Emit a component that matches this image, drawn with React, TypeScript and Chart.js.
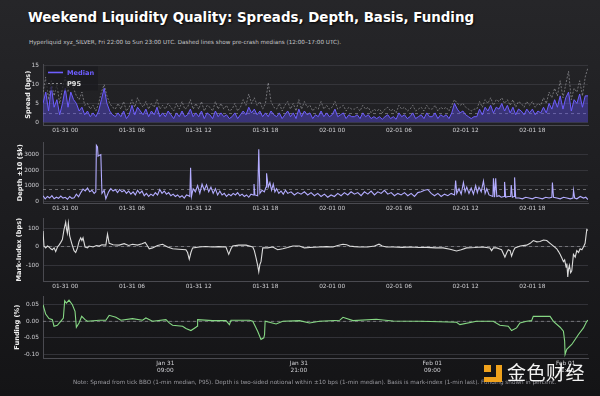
import React, { useEffect, useRef } from "react";
import { Chart, registerables } from "chart.js";

Chart.register(...registerables);

const FONT = "'DejaVu Sans', sans-serif";

// x axis: hours since Fri 01-30 22:00 UTC
const X_MIN = 0;
const X_MAX = 49;
const TOP_TICK_HOURS = [2, 8, 14, 20, 26, 32, 38, 44];
const TOP_TICK_LABELS = ["01-31 00", "01-31 06", "01-31 12", "01-31 18", "02-01 00", "02-01 06", "02-01 12", "02-01 18"];
const BOTTOM_TICK_HOURS = [11, 23, 35, 47];
const BOTTOM_TICK_LABELS = [["Jan 31", "09:00"], ["Jan 31", "21:00"], ["Feb 01", "09:00"], ["Feb 01", "21:00"]];

// Spread (bps), sampled every 15 minutes
const SPREAD_STEP_HOURS = 0.25;
const SPREAD_MEDIAN = [
  5, 8, 3, 9.5, 4, 6, 2, 5, 9, 4, 8, 6, 5, 3, 4, 2,
  3, 1.5, 2.5, 1.5, 3, 6, 9, 5, 3, 2, 1.5, 2.5, 1.5, 3, 1, 2,
  4.5, 2, 4, 3, 2, 3.5, 1.5, 3, 2, 4, 1.5, 2.5, 1.5, 3, 2, 1,
  2.5, 1.5, 3, 1.5, 2, 3.5, 1.5, 2.5, 1.5, 3, 1, 2.5, 2, 1, 3, 1.5,
  2.5, 1.5, 2, 1, 1.5, 2.5, 1, 2, 3, 2, 4, 2.5, 3.5, 2, 3, 1.5,
  2.5, 1.5, 3, 2, 1.5, 2.5, 1, 2, 3, 1.5, 2.5, 1, 3.5, 1.5, 3, 2,
  2.5, 1, 2, 1.5, 3, 1.5, 2.5, 1.5, 2, 3.5, 1.5, 2, 2.5, 1, 2, 1.5,
  1.5, 2, 1, 2.5, 1.5, 2, 1, 1.5, 1, 1.5, 0.8, 1.5, 2, 1, 1.5, 0.8,
  2.5, 1.5, 2, 1, 1.5, 2.5, 1, 1.5, 2, 1, 2.5, 1.5, 1.5, 2.5, 1, 2,
  1.5, 2, 1, 2.5, 5, 3.5, 2.5, 3, 2, 1.5, 1, 1.5, 1.5, 3.5, 2, 4,
  3, 4.5, 2.5, 4, 3.5, 5, 3, 4.5, 2.5, 4, 2, 3.5, 3, 2, 3.5, 2.5,
  3.5, 2, 3, 2.5, 4, 2.5, 5, 3.5, 6, 4, 7, 3.5, 6.5, 8, 3, 6,
  5, 7.5, 4, 7, 7,
];
const SPREAD_P95 = [
  8, 12, 6, 11, 7, 10, 5, 9, 12, 8, 11, 9, 7, 6, 8, 4.5,
  5, 3.5, 4.5, 3, 5, 8, 10, 7, 5, 4, 3.5, 5, 3.5, 5.5, 3, 4,
  6, 4, 6.5, 5, 4, 5.5, 3.5, 5, 4, 6, 3.5, 4.5, 3.5, 5, 4, 3,
  5, 3.5, 5.5, 3.5, 4, 6, 3.5, 5, 3.5, 5.5, 3, 4.5, 4, 3, 5.5, 3.5,
  5, 3.5, 4.5, 3, 3.5, 5, 3, 4, 6, 4.5, 7.5, 5, 6.5, 4.5, 5.5, 3.5,
  5, 10.5, 5.5, 4, 3.5, 5, 3, 4.5, 5.5, 3.5, 5, 3, 6, 3.5, 5.5, 4,
  4.5, 3, 4, 3.5, 5.5, 3.5, 4.5, 3.5, 4, 5.5, 3.5, 4, 4.5, 3, 4, 3.5,
  3.5, 4, 3, 4.5, 3.5, 4, 2.5, 3.5, 3, 3.5, 2.5, 3.5, 4, 3, 3.5, 2.5,
  4.5, 3.5, 4, 3, 3.5, 4.5, 3, 3.5, 4, 3, 4.5, 3.5, 3.5, 4.5, 3, 4,
  3.5, 4, 3, 4.5, 6, 5, 4.5, 5, 4, 3.5, 3, 3.5, 3.5, 5.5, 4, 6,
  5, 6.5, 4.5, 6, 5.5, 6.5, 5, 6, 4.5, 6, 4, 5.5, 5, 4, 5.5, 4.5,
  5.5, 4, 5, 4.5, 6.5, 5, 8, 6.5, 9, 7, 11, 6.5, 10, 13.5, 6, 9,
  8, 11, 7, 12, 14.5,
];
const SPREAD_PRECRASH = 2.3;
const SPREAD_Y_TICKS = [0, 5, 10, 15];
const LEGEND_LABELS = ["Median", "P95"];

// Depth ±10 bps ($k)
const DEPTH_HOURS = [
  0, 0.2, 0.4, 0.6, 0.8, 1.0, 1.2, 1.4, 1.6, 1.8,
  2.0, 2.2, 2.4, 2.6, 2.8, 3.0, 3.2, 3.4, 3.6, 3.8,
  4.0, 4.2, 4.4, 4.6, 4.75, 4.8, 4.9, 4.95, 5.05, 5.2,
  5.3, 5.5, 5.65, 5.9, 6.1, 6.3, 6.5, 6.7, 6.9, 7.1,
  7.3, 7.5, 7.7, 7.9, 8.1, 8.3, 8.5, 8.7, 8.9, 9.1,
  9.3, 9.5, 9.7, 9.9, 10.1, 10.3, 10.5, 10.7, 10.9, 11.1,
  11.3, 11.5, 11.7, 11.9, 12.1, 12.3, 12.5, 12.7, 12.9, 13.1,
  13.2, 13.27, 13.35, 13.5, 13.7, 13.9, 14.1, 14.3, 14.5, 14.7,
  14.9, 15.1, 15.3, 15.5, 15.7, 15.9, 16.1, 16.3, 16.5, 16.7,
  16.9, 17.1, 17.3, 17.5, 17.7, 17.9, 18.1, 18.3, 18.5, 18.7,
  18.9, 18.97, 19.05, 19.3, 19.4, 19.5, 19.7, 19.9, 20.05, 20.1,
  20.25, 20.4, 20.55, 20.7, 20.85, 21.0, 21.2, 21.4, 21.6, 21.8,
  22.0, 22.3, 22.6, 22.9, 23.2, 23.5, 23.8, 24.1, 24.4, 24.7,
  25.0, 25.3, 25.6, 25.9, 26.2, 26.5, 26.8, 27.1, 27.4, 27.7,
  28.0, 28.3, 28.6, 28.9, 29.2, 29.5, 29.8, 30.1, 30.4, 30.7,
  31.0, 31.3, 31.6, 31.9, 32.2, 32.5, 32.8, 33.1, 33.4, 33.7,
  34.0, 34.3, 34.6, 34.9, 35.2, 35.5, 35.8, 36.1, 36.4, 36.7,
  37.0, 37.1, 37.2, 37.4, 37.6, 37.8, 37.95, 38.1, 38.3, 38.5,
  38.7, 38.9, 39.05, 39.2, 39.4, 39.6, 39.75, 39.9, 40.1, 40.45,
  40.5, 40.6, 40.7, 40.8, 41.0, 41.2, 41.45, 41.5, 41.6, 41.8,
  42.05, 42.1, 42.2, 42.35, 42.4, 42.5, 42.8, 43.1, 43.4, 43.7,
  44.0, 44.3, 44.6, 44.9, 45.2, 45.5, 45.75, 45.8, 45.9, 46.2,
  46.5, 46.8, 47.1, 47.4, 47.65, 47.7, 47.8, 48.0, 48.3, 48.6,
  48.8, 49.0,
];
const DEPTH_VALUES = [
  350, 150, 300, 200, 350, 150, 250, 180, 330, 200,
  250, 120, 300, 180, 220, 450, 280, 550, 780, 650,
  850, 600, 700, 500, 600, 3600, 3500, 2900, 2950, 3000,
  500, 700, 150, 600, 800, 650, 750, 550, 750, 600,
  700, 500, 650, 450, 600, 400, 700, 500, 650, 350,
  500, 300, 450, 350, 550, 400, 750, 500, 650, 450,
  550, 350, 450, 300, 400, 250, 350, 200, 400, 350,
  300, 2150, 300, 800, 600, 1000, 500, 1100, 700, 1050,
  600, 900, 500, 800, 400, 650, 400, 500, 300, 450,
  350, 500, 400, 550, 350, 450, 300, 400, 250, 450,
  400, 1100, 400, 350, 3350, 500, 700, 600, 900, 1800,
  900, 1200, 700, 1100, 600, 800, 500, 650, 450, 700,
  500, 600, 400, 550, 450, 600, 400, 550, 350, 500,
  300, 450, 250, 400, 300, 500, 350, 550, 400, 600,
  450, 550, 350, 600, 450, 650, 400, 600, 500, 700,
  450, 550, 350, 500, 400, 550, 350, 500, 300, 550,
  600, 700, 750, 500, 350, 500, 300, 450, 350, 500,
  400, 1330, 500, 800, 450, 1200, 600, 900, 500, 850,
  450, 1000, 550, 900, 600, 1300, 500, 800, 400, 300,
  1470, 250, 1470, 300, 350, 250, 300, 1240, 250, 300,
  300, 1040, 250, 300, 1530, 200, 200, 150, 250, 200,
  150, 250, 200, 150, 250, 200, 250, 1200, 250, 200,
  150, 250, 200, 150, 200, 700, 200, 150, 300, 200,
  250, 100,
];
const DEPTH_PRECRASH = 750;
const DEPTH_Y_TICKS = [0, 1000, 2000, 3000];

// Mark - Index basis (bps)
const MARK_HOURS = [
  0, 0.09, 0.24, 0.4, 0.54, 0.7, 0.84, 1.0, 1.14, 1.3,
  1.44, 1.6, 1.74, 1.89, 2.04, 2.12, 2.19, 2.28, 2.4, 2.58,
  2.79, 2.94, 3.1, 3.24, 3.39, 3.5, 3.6, 3.78, 4.0, 4.14,
  4.5, 4.8, 5.05, 5.3, 5.65, 5.8, 5.95, 6.3, 6.85, 7.3,
  7.7, 8.05, 8.5, 8.9, 9.19, 9.4, 9.55, 9.85, 10.3, 10.75,
  11.2, 11.65, 12.2, 12.85, 13.0, 13.15, 13.3, 13.45, 14.05, 14.6,
  15.2, 15.8, 16.45, 16.7, 16.9, 17.05, 17.6, 18.26, 18.86, 19.0,
  19.16, 19.3, 19.4, 19.5, 19.6, 19.76, 20.2, 20.66, 21.1, 21.56,
  22.0, 22.46, 23.06, 23.5, 24.0, 24.86, 25.5, 26.07, 26.5, 26.97,
  27.3, 27.57, 28.0, 28.47, 29.2, 29.8, 30.21, 30.5, 30.87, 31.5,
  32.3, 33.0, 33.8, 34.5, 35.3, 35.97, 36.6, 37.18, 37.6, 38.08,
  38.8, 39.5, 40.18, 40.33, 40.5, 40.78, 41.0, 41.23, 41.53, 41.7,
  41.83, 42.0, 42.13, 42.3, 42.43, 42.9, 43.48, 43.8, 44.08, 44.4,
  44.68, 45.0, 45.29, 45.59, 45.9, 46.19, 46.35, 46.49, 46.65, 46.79,
  46.9, 47.03, 47.1, 47.18, 47.25, 47.33, 47.44, 47.54, 47.69, 47.85,
  47.99, 48.15, 48.29, 48.45, 48.59, 48.74, 48.89, 49.0,
];
const MARK_VALUES = [
  87, 5, -5, 5, 0, -10, -15, -5, -25, 0,
  10, 25, 40, 95, 135, 95, 75, 130, 60, 20,
  -20, -30, -5, 30, 50, 35, 50, 0, -5, 5,
  0, 8, 5, 12, 10, 70, 20, 12, 10, 18,
  8, 15, 10, 18, 25, 5, -10, -5, 8, 15,
  0, -10, -12, -15, -30, -67, -30, -5, 0, 3,
  0, 2, 0, -40, -10, 5, 10, 10, 0, -20,
  -60, -100, -135, -95, -80, -5, -5, 0, -15, -10,
  -3, 5, 5, -5, -3, 0, 2, 0, 8, 15,
  12, 5, 2, 0, 0, 5, 15, 5, 0, 0,
  -2, 0, -3, -2, -5, -5, -12, -22, -15, -5,
  -3, 0, -5, -20, -5, -5, -10, -15, -55, -30,
  -15, -20, -50, -20, -5, 5, 10, 20, 35, 28,
  30, 38, 35, 20, 5, -10, -25, -40, -60, -80,
  -70, -110, -90, -163, -120, -100, -140, -130, -40, -55,
  -20, -30, -10, -15, 0, 20, 95, 90,
];
const MARK_PRECRASH = 2;
const MARK_Y_TICKS = [-100, 0, 100];

// Funding (%)
const FUND_HOURS = [
  0, 0.24, 0.54, 0.84, 0.99, 1.29, 1.59, 1.83, 1.95, 2.1,
  2.34, 2.64, 2.88, 3.0, 3.24, 3.48, 3.78, 3.99, 5.05, 5.65,
  5.95, 6.55, 7.0, 8.05, 8.95, 9.25, 9.85, 11.05, 11.35, 11.65,
  12.55, 12.85, 13.3, 13.75, 13.85, 13.9, 15.25, 16.45, 16.76, 16.9,
  18.56, 18.86, 19.3, 19.6, 19.85, 19.92, 19.97, 20.96, 21.56, 23.06,
  23.96, 24.86, 26.67, 26.97, 27.87, 29.97, 30.57, 31.47, 34.0, 37.18,
  37.48, 38.98, 40.48, 41.08, 41.83, 42.13, 42.58, 42.88, 43.48, 43.93,
  44.08, 45.59, 45.89, 46.49, 46.79, 46.9, 46.94, 47.09, 47.54, 47.84,
  48.14, 48.59, 48.89, 49.0,
];
const FUND_VALUES = [
  0.05, 0.022, 0.008, 0.005, -0.015, -0.012, 0, 0.01, 0.062, 0.055,
  0.064, 0.05, 0.03, -0.018, -0.005, 0.015, 0.005, 0, 0.003, 0.003,
  0.018, 0.012, 0.003, 0.008, 0.003, 0.01, 0, 0.005, -0.005, -0.012,
  -0.015, -0.022, -0.028, -0.018, -0.015, 0.005, 0.002, 0.002, -0.01, 0.003,
  0.003, 0, -0.03, -0.055, -0.05, -0.04, 0, -0.008, 0, 0.002,
  -0.005, 0, 0.003, 0.012, 0.002, 0.006, 0.004, 0.001, 0, -0.003,
  -0.01, 0, 0, -0.012, -0.015, -0.028, -0.02, -0.005, 0, 0.002,
  0.015, 0.015, 0, -0.018, -0.03, -0.06, -0.1, -0.085, -0.07, -0.055,
  -0.04, -0.02, 0, 0.003,
];
const FUND_PRECRASH = 0.0;
const FUND_Y_TICKS = [-0.1, -0.05, 0, 0.05];

const TITLE = "Weekend Liquidity Quality: Spreads, Depth, Basis, Funding";
const SUBTITLE = "Hyperliquid xyz_SILVER, Fri 22:00 to Sun 23:00 UTC. Dashed lines show pre-crash medians (12:00–17:00 UTC).";
const NOTE = "Note: Spread from tick BBO (1-min median, P95). Depth is two-sided notional within ±10 bps (1-min median). Basis is mark-index (1-min last). Funding shown in percent.";

const TICK_COLOR = "#d2d2d6";
const GRID_COLOR = "#3a3a40";
const BORDER_COLOR = "#4a4a50";
const MEDIAN_COLOR = "#6e5eff";
const P95_COLOR = "rgba(170,170,175,0.75)";

const pts = (xs: number[], ys: number[]) => ys.map((y, i) => ({ x: xs[i], y }));
const refLine = (v: number) => ({
  data: [{ x: X_MIN, y: v }, { x: X_MAX, y: v }],
  borderColor: "rgba(160,160,165,0.75)",
  borderWidth: 0.8,
  borderDash: [3, 3],
  pointRadius: 0,
  fill: false,
});

const legendPlugin = {
  id: "spreadLegend",
  afterDatasetsDraw(chart: any) {
    const { ctx, chartArea } = chart;
    const x0 = chartArea.left + 3;
    const y0 = chartArea.top + 2;
    ctx.save();
    ctx.fillStyle = "rgba(26,26,30,0.72)";
    ctx.fillRect(x0, y0, 52, 24);
    const colors = [MEDIAN_COLOR, "#e6e6e6"];
    const lineColors = [MEDIAN_COLOR, P95_COLOR];
    LEGEND_LABELS.forEach((label, i) => {
      const cy = y0 + 6 + i * 11;
      ctx.beginPath();
      ctx.strokeStyle = lineColors[i];
      ctx.lineWidth = i === 0 ? 1.6 : 1;
      ctx.setLineDash(i === 0 ? [] : [2, 2]);
      ctx.moveTo(x0 + 2, cy);
      ctx.lineTo(x0 + 17, cy);
      ctx.stroke();
      ctx.setLineDash([]);
      ctx.fillStyle = colors[i];
      ctx.font = `bold 6.6px ${FONT}`;
      ctx.textBaseline = "middle";
      ctx.fillText(label, x0 + 21, cy + 0.5);
    });
    ctx.restore();
  },
};

function makeOptions(p: {
  yMin: number; yMax: number; yTicks: number[]; yTitle: string; titlePad: number;
  bottom: boolean; xAxisH: number; decimals: number;
}) {
  const tickHours = p.bottom ? BOTTOM_TICK_HOURS : TOP_TICK_HOURS;
  const tickLabels: any[] = p.bottom ? BOTTOM_TICK_LABELS : TOP_TICK_LABELS;
  return {
    responsive: false,
    animation: false,
    devicePixelRatio: 1,
    layout: { padding: { left: 0, right: 12, top: 2, bottom: 0 } },
    plugins: { legend: { display: false }, tooltip: { enabled: false } },
    elements: { point: { radius: 0 }, line: { tension: 0 } },
    scales: {
      x: {
        type: "linear",
        min: X_MIN,
        max: X_MAX,
        grid: { display: false, drawTicks: false },
        border: { color: BORDER_COLOR },
        afterBuildTicks: (s: any) => { s.ticks = tickHours.map((v) => ({ value: v })); },
        afterFit: (s: any) => { s.height = p.xAxisH; },
        ticks: {
          autoSkip: false,
          maxRotation: 0,
          padding: 2,
          color: TICK_COLOR,
          font: { family: FONT, size: 5.8 },
          callback: (v: number) => { const i = tickHours.indexOf(v); return i >= 0 ? tickLabels[i] : ""; },
        },
      },
      y: {
        type: "linear",
        min: p.yMin,
        max: p.yMax,
        grid: { color: GRID_COLOR, drawTicks: false, lineWidth: 0.8 },
        border: { color: BORDER_COLOR },
        afterBuildTicks: (s: any) => { s.ticks = p.yTicks.map((v) => ({ value: v })); },
        afterFit: (s: any) => { s.width = 43; },
        ticks: {
          padding: 4,
          color: TICK_COLOR,
          font: { family: FONT, size: 5.8 },
          callback: (v: number) => (p.decimals ? v.toFixed(p.decimals) : String(v)),
        },
        title: {
          display: true,
          text: p.yTitle,
          color: "#f0f0f0",
          font: { family: FONT, size: 6.6, weight: "bold" },
          padding: { top: p.titlePad, bottom: 0 },
        },
      },
    },
  };
}

const PANELS = [
  {
    top: 57, height: 80,
    build: () => ({
      type: "line",
      data: {
        datasets: [
          {
            data: SPREAD_MEDIAN.map((y, i) => ({ x: i * SPREAD_STEP_HOURS, y })),
            borderColor: MEDIAN_COLOR, borderWidth: 1, backgroundColor: "rgba(100,84,255,0.38)", fill: "origin",
          },
          {
            data: SPREAD_P95.map((y, i) => ({ x: i * SPREAD_STEP_HOURS, y })),
            borderColor: P95_COLOR, borderWidth: 0.8, borderDash: [2, 1.5], fill: false,
          },
          refLine(SPREAD_PRECRASH),
        ],
      },
      options: makeOptions({ yMin: -0.7, yMax: 15.3, yTicks: SPREAD_Y_TICKS, yTitle: "Spread (bps)", titlePad: 24, bottom: false, xAxisH: 12, decimals: 0 }),
      plugins: [legendPlugin],
    }),
  },
  {
    top: 135, height: 80,
    build: () => ({
      type: "line",
      data: {
        datasets: [
          { data: pts(DEPTH_HOURS, DEPTH_VALUES), borderColor: "#b3acff", borderWidth: 1.1, fill: false },
          refLine(DEPTH_PRECRASH),
        ],
      },
      options: makeOptions({ yMin: -120, yMax: 3780, yTicks: DEPTH_Y_TICKS, yTitle: "Depth ±10 ($k)", titlePad: 16, bottom: false, xAxisH: 12, decimals: 0 }),
    }),
  },
  {
    top: 211, height: 82,
    build: () => ({
      type: "line",
      data: {
        datasets: [
          { data: pts(MARK_HOURS, MARK_VALUES), borderColor: "#dcdcdc", borderWidth: 1.1, fill: false },
          refLine(MARK_PRECRASH),
        ],
      },
      options: makeOptions({ yMin: -185, yMax: 155, yTicks: MARK_Y_TICKS, yTitle: "Mark-Index (bps)", titlePad: 15, bottom: false, xAxisH: 12, decimals: 0 }),
    }),
  },
  {
    top: 289, height: 89,
    build: () => ({
      type: "line",
      data: {
        datasets: [
          { data: pts(FUND_HOURS, FUND_VALUES), borderColor: "#86d884", borderWidth: 1.1, fill: false },
          refLine(FUND_PRECRASH),
        ],
      },
      options: makeOptions({ yMin: -0.111, yMax: 0.075, yTicks: FUND_Y_TICKS, yTitle: "Funding (%)", titlePad: 13, bottom: true, xAxisH: 20, decimals: 2 }),
    }),
  },
];

function Panel({ top, height, build }: { top: number; height: number; build: () => any }) {
  const ref = useRef<HTMLCanvasElement>(null);
  useEffect(() => {
    const chart = new Chart(ref.current as HTMLCanvasElement, build());
    return () => chart.destroy();
  }, []);
  return (
    <canvas
      ref={ref}
      width={600}
      height={height}
      style={{ position: "absolute", left: 0, top, width: 600, height }}
    />
  );
}

export default function App() {
  return (
    <div
      style={{
        position: "fixed", left: 0, top: 0, width: 600, height: 396, overflow: "hidden",
        background: "linear-gradient(180deg, #262629 0%, #1c1c1f 55%, #141416 100%)",
        fontFamily: FONT,
      }}
    >
      <div style={{ position: "absolute", left: 28, top: 9, fontSize: 13.4, fontWeight: "bold", color: "#ffffff", whiteSpace: "nowrap", lineHeight: "18px", textShadow: "1px 1px 2px rgba(0,0,0,0.85)" }}>
        {TITLE}
      </div>
      <div style={{ position: "absolute", left: 29, top: 39, fontSize: 5.65, color: "#c4c4c8", whiteSpace: "nowrap", lineHeight: "7px" }}>
        {SUBTITLE}
      </div>
      {PANELS.map((p, i) => (
        <Panel key={i} top={p.top} height={p.height} build={p.build} />
      ))}
      <div style={{ position: "absolute", left: 73, top: 379, fontSize: 5.7, color: "#9a9aa0", whiteSpace: "nowrap", lineHeight: "7px" }}>
        {NOTE}
      </div>
      <div style={{ position: "absolute", left: 484, top: 365, width: 18, height: 17 }}>
        <div style={{ position: "absolute", left: 0, top: 0, width: 7, height: 7, background: "#f0a21c" }} />
        <div style={{ position: "absolute", left: 12, top: 0, width: 6, height: 17, background: "#f0a21c" }} />
        <div style={{ position: "absolute", left: 0, top: 12, width: 18, height: 5, background: "#f0a21c" }} />
      </div>
      <div style={{ position: "absolute", left: 507, top: 360, fontSize: 19, color: "rgba(255,255,255,0.95)", whiteSpace: "nowrap", lineHeight: "24px", fontFamily: "'Noto Sans CJK SC', sans-serif", letterSpacing: 0.5 }}>
        金色财经
      </div>
    </div>
  );
}
